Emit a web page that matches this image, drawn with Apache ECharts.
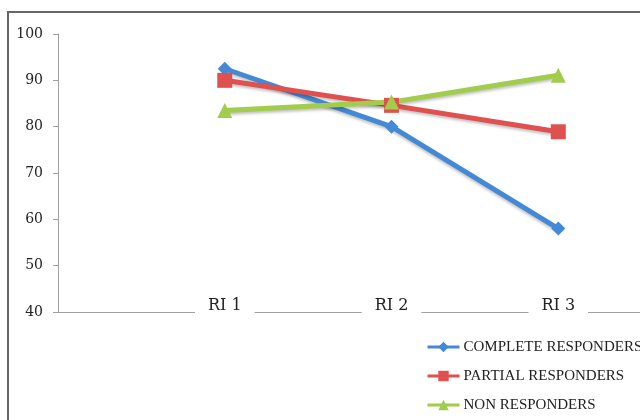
<!DOCTYPE html>
<html>
<head>
<meta charset="utf-8">
<script src="https://cdn.jsdelivr.net/npm/echarts@6/dist/echarts.min.js"></script>
<style>
  html, body { margin: 0; padding: 0; background: #fff; }
  #chart { width: 640px; height: 420px; }
</style>
</head>
<body>
<div id="chart"></div>
<script>
const categories = ["RI 1", "RI 2", "RI 3"];
const seriesNames = ["COMPLETE RESPONDERS", "PARTIAL RESPONDERS", "NON RESPONDERS"];
const complete = [92.5, 80, 58];
const partial = [90, 84.6, 78.9];
const nonResp = [83.5, 85.3, 91.1];
const yTicks = [40, 50, 60, 70, 80, 90, 100];

const colors = ["#4389d6", "#e0504f", "#a2cc4b"];
const symbols = ["diamond", "rect", "triangle"];
const sizes = [14, 15, 15];

// x positions are category index + 1 so the axis can run past the last point
function toPoints(values) {
  return values.map((v, i) => [i + 1, v]);
}

const chart = echarts.init(document.getElementById("chart"));
const serif = "'Liberation Serif', 'DejaVu Serif', serif";
const wideSerif = "'DejaVu Serif', serif";

chart.setOption({
  animation: false,
  graphic: [{
    type: "rect",
    shape: { x: 8, y: 12, width: 700, height: 500 },
    style: { fill: "none", stroke: "#666", lineWidth: 2 },
    z: -1
  }],
  grid: { left: 58, right: 0, top: 34, bottom: 108 },
  legend: {
    orient: "vertical",
    left: 426,
    top: 339,
    padding: 0,
    itemWidth: 32,
    itemHeight: 13,
    itemGap: 13,
    lineStyle: { width: 3, shadowBlur: 0, shadowOffsetY: 0 },
    itemStyle: { shadowBlur: 0, shadowOffsetY: 0 },
    textStyle: { fontFamily: serif, fontSize: 15, color: "#222", lineHeight: 16, padding: [0, 0, 0, -1] },
    data: seriesNames
  },
  xAxis: {
    type: "value",
    min: 0,
    max: 3.49,
    interval: 1,
    splitLine: { show: false },
    axisTick: { show: false },
    axisLine: { lineStyle: { color: "#a0a0a0", width: 1 } },
    axisLabel: {
      showMinLabel: false,
      showMaxLabel: false,
      formatter: (v) => categories[v - 1] || "",
      fontFamily: wideSerif,
      fontSize: 16,
      color: "#222",
      backgroundColor: "#fff",
      padding: [4, 13, 4, 13],
      verticalAlign: "middle",
      margin: -6
    }
  },
  yAxis: {
    type: "value",
    min: yTicks[0],
    max: yTicks[yTicks.length - 1],
    interval: 10,
    splitLine: { show: false },
    axisLine: { show: true, lineStyle: { color: "#a0a0a0", width: 1 } },
    axisTick: { show: true, length: 5, lineStyle: { color: "#a0a0a0" } },
    axisLabel: { fontFamily: wideSerif, fontSize: 14, color: "#222", margin: 15 }
  },
  series: [complete, partial, nonResp].map((vals, i) => ({
    name: seriesNames[i],
    type: "line",
    data: toPoints(vals),
    symbol: symbols[i],
    symbolSize: sizes[i],
    color: colors[i],
    lineStyle: {
      width: 5,
      color: colors[i],
      shadowColor: "rgba(0,0,0,0.25)",
      shadowBlur: 3,
      shadowOffsetY: 2
    },
    itemStyle: {
      color: colors[i],
      borderColor: colors[i],
      borderWidth: 0,
      opacity: 1
    }
  }))
});
</script>
</body>
</html>
